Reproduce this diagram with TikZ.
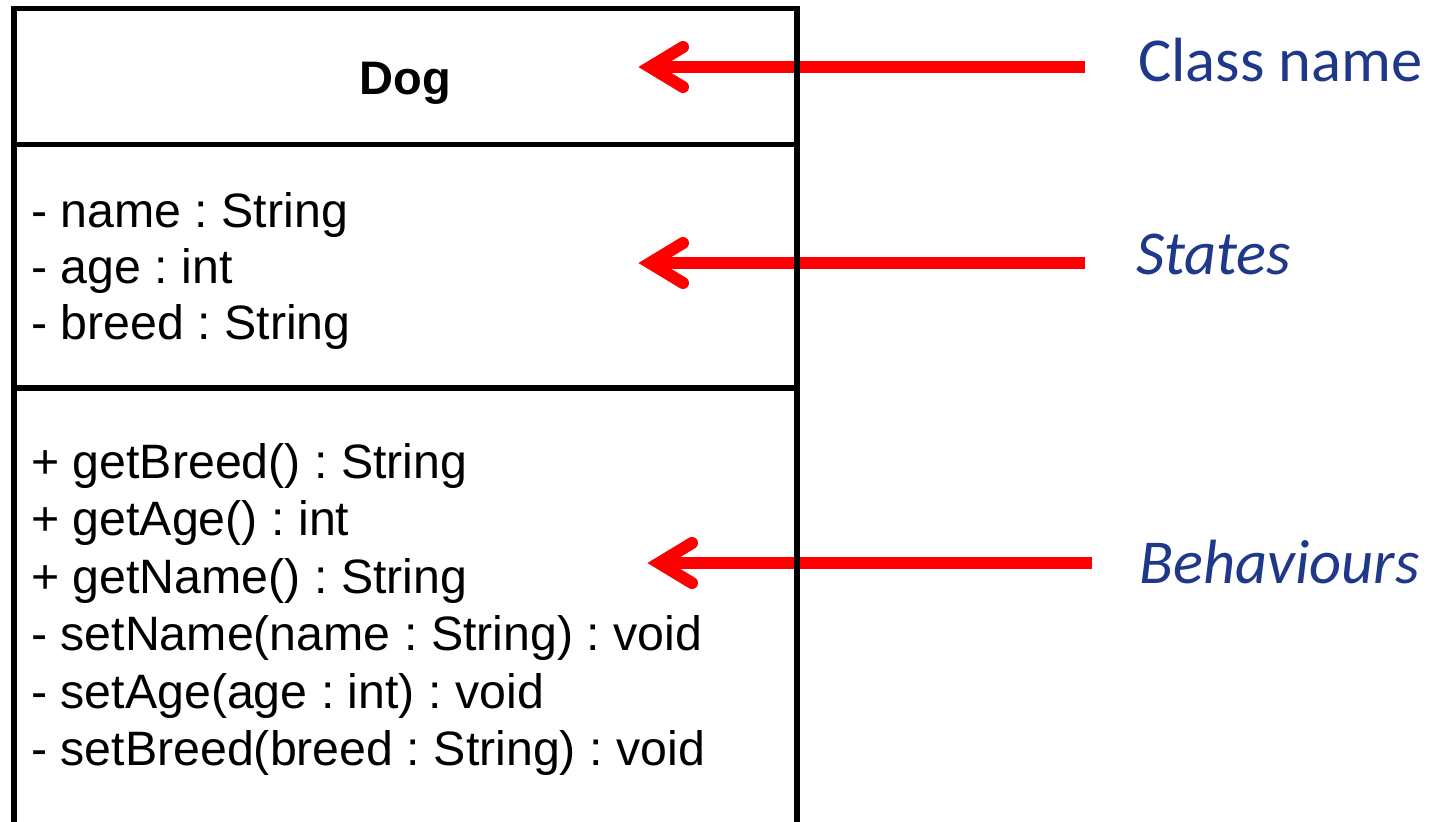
\documentclass[tikz,border=0pt]{standalone}
\usepackage{fontspec}
\setmainfont{Liberation Sans}
\newfontfamily\calibri{Carlito}
\usetikzlibrary{calc}
\definecolor{lblblue}{RGB}{31,56,138}
\definecolor{arrred}{RGB}{255,0,0}
\frenchspacing
\begin{document}
\begin{tikzpicture}[x=1pt,y=-1pt,
 member/.style={anchor=base west, inner sep=0pt, font=\fontsize{48.3}{56}\selectfont},
 lbl/.style={anchor=base west, inner sep=0pt, text=lblblue, font=\calibri\fontsize{62.5}{70}\selectfont},
 shaft/.style={draw=arrred, line width=12pt},
 chev/.style={draw=arrred, line width=12pt, line cap=round, line join=miter, miter limit=10},
 boxline/.style={draw=black, line width=5.5pt}]
\clip (0,0) rectangle (1441,822);
% labels
\node[lbl] (cn) at (1138,81) {Class name};
\node[lbl] (st) at (1136,274) {\itshape States};
\node[lbl] (bh) at (1139,583) {\itshape Behaviours};
% arrow tips
\coordinate (tcn) at (650,67);
\coordinate (tst) at (650,263);
\coordinate (tbh) at (659,563);
\draw[shaft] ($(cn.west |- tcn)+(-53,0)$) -- (tcn);
\draw[shaft] ($(st.west |- tst)+(-51,0)$) -- (tst);
\draw[shaft] ($(bh.west |- tbh)+(-47,0)$) -- (tbh);
\draw[chev] ($(tcn)+(33,-20)$) -- (tcn) -- ($(tcn)+(33,20)$);
\draw[chev] ($(tst)+(33,-20)$) -- (tst) -- ($(tst)+(33,20)$);
\draw[chev] ($(tbh)+(33,-20)$) -- (tbh) -- ($(tbh)+(33,20)$);
% class box
\draw[boxline] (14,900) -- (14,8.5) -- (797,8.5) -- (797,900);
\draw[boxline] (14,144.5) -- (797,144.5);
\draw[boxline] (14,388) -- (797,388);
\node[anchor=base, inner sep=0pt, font=\bfseries\fontsize{47}{56}\selectfont] (dogname) at (405.5,94) {Dog};
% attributes
\node[member] (a1) at (31,227) {- name : String};
\node[member] (a2) at (31,283) {- age : int};
\node[member] (a3) at (31,339) {- breed : String};
% operations
\node[member] (m1) at (31,478) {+ getBreed() : String};
\node[member] (m2) at (31,535.5) {+ getAge() : int};
\node[member] (m3) at (31,593) {+ getName() : String};
\node[member] (m4) at (31,650.5) {- setName(name : String) : void};
\node[member] (m5) at (31,708) {- setAge(age : int) : void};
\node[member] (m6) at (31,765.5) {- setBreed(breed : String) : void};
\end{tikzpicture}
\end{document}
